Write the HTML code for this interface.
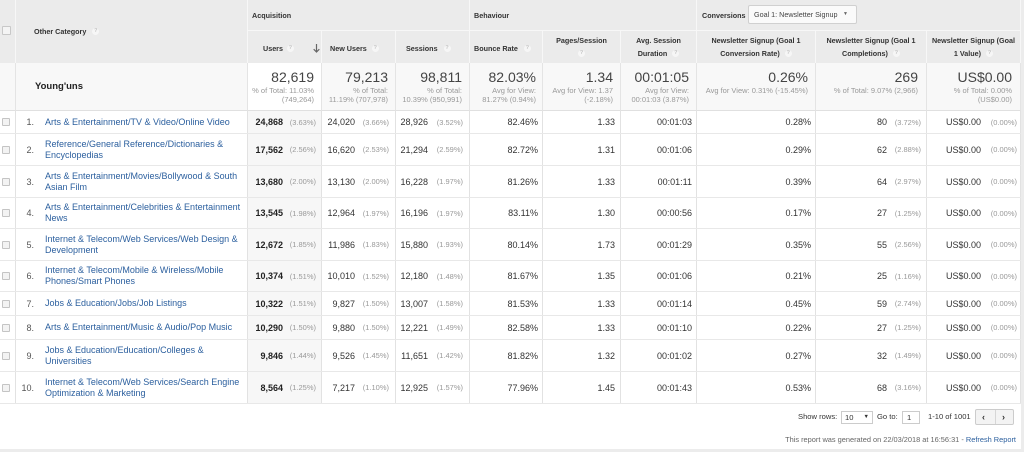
<!DOCTYPE html>
<html><head><meta charset="utf-8">
<style>
html,body{margin:0;padding:0}
body{background:#ececec;width:1024px;height:452px;overflow:hidden;position:relative;font-family:"Liberation Sans",Arial,sans-serif;color:#333}
#w{position:absolute;left:0;top:0;width:1021px;height:449px;background:#fff}
.a{position:absolute;box-sizing:border-box}
.h{background:#ebebeb;border-right:1px solid #f7f7f7;font-weight:bold;font-size:7.2px;color:#333;white-space:nowrap}
.hf{display:flex;align-items:center}
.q{display:inline-block;width:7px;height:7px;border-radius:50%;background:#f6f6f6;color:#c4c4c4;font-size:5.5px;line-height:7px;text-align:center;font-weight:bold;vertical-align:middle}
.h2{top:30px;height:33px;border-top:1px solid #f7f7f7}
.h2s{padding-top:3px}
.hc{text-align:center;line-height:12.5px;padding-top:4px}
.s{top:63px;height:48px;background:#f8f8f8;border-right:1px solid #e4e4e4;border-bottom:1px solid #e0e0e0;text-align:right;padding-top:6px;padding-right:7px;white-space:nowrap}
.s .big{font-size:14px;line-height:16px;color:#444}
.s .sub{font-size:7.5px;line-height:8.6px;color:#999;margin-top:2px}
.r{position:absolute;left:0;width:1021px;display:flex;box-sizing:border-box;border-bottom:1px solid #e8e8e8;font-size:9px;color:#333}
.r>div{box-sizing:border-box;border-right:1px solid #e2e2e2;display:flex;align-items:center;justify-content:flex-end;height:100%;white-space:nowrap}
.r>.c1{width:16px;justify-content:flex-start}
.r>.c2{width:232px;justify-content:flex-start}
.c3{width:74px;padding-right:5px;background:#f7f7f7}
.c3 b{font-weight:bold;color:#222}
.c4{width:74px;padding-right:6px}
.c5{width:74px;padding-right:6px}
.c6{width:73px;padding-right:4px}
.c7{width:78px;padding-right:5px}
.c8{width:76px;padding-right:4px}
.c9{width:119px;padding-right:4px}
.c10{width:111px;padding-right:5px}
.c11{width:94px;padding-right:3px}
.p{display:inline-block;text-align:right;font-size:7.5px;color:#999}
.c3 .p{width:33px}.c4 .p{width:34px}.c5 .p{width:35px}.c10 .p{width:34px}.c11 .p{width:36px}
.cb{width:8px;height:8px;box-sizing:border-box;border:1px solid #c4c4c4;background:#f3f3f3;border-radius:1px;margin-left:2px}
.no{display:inline-block;width:18px;text-align:right;color:#555}
.lk{margin-left:11px;color:#2b5f9e;line-height:11px}
.ft{font-size:7.6px;color:#333;white-space:nowrap}
</style></head><body>
<div id="w">
<!-- header -->
<div class="a h" style="left:0;top:0;width:16px;height:63px;"><div style="position:absolute;left:2px;top:26px;width:9px;height:9px;box-sizing:border-box;border:1px solid #c8c8c8;background:#f4f4f4;border-radius:1px"></div></div>
<div class="a h hf" style="left:16px;top:0;width:232px;height:63px;padding-left:18px;padding-bottom:1px">Other Category<span class="q" style="margin-left:6px">?</span></div>
<div class="a h hf" style="left:248px;top:0;width:222px;height:30px;padding-left:4px">Acquisition</div>
<div class="a h hf" style="left:470px;top:0;width:227px;height:30px;padding-left:4px">Behaviour</div>
<div class="a h hf" style="left:697px;top:0;width:324px;height:30px;padding-left:5px">Conversions
 <div style="position:absolute;left:51px;top:5px;width:109px;height:19px;box-sizing:border-box;border:1px solid #d0d0d0;background:#fafafa;border-radius:2px;font-weight:normal;font-size:7.2px;color:#444;line-height:17px;padding-left:5px">Goal 1: Newsletter Signup<span style="position:absolute;left:94px;top:0;font-size:5px;color:#666">&#9660;</span></div>
</div>
<div class="a h h2 hf h2s" style="left:248px;width:74px;padding-left:15px">Users<span class="q" style="margin-left:4px">?</span>
 <svg style="position:absolute;left:65px;top:13px" width="7" height="9" viewBox="0 0 7 9"><path d="M3.5 0V8M0.7 5.2L3.5 8L6.3 5.2" stroke="#666" stroke-width="1.2" fill="none"/></svg></div>
<div class="a h h2 hf h2s" style="left:322px;width:74px;padding-left:8px">New Users<span class="q" style="margin-left:5px">?</span></div>
<div class="a h h2 hf h2s" style="left:396px;width:74px;padding-left:10px">Sessions<span class="q" style="margin-left:6px">?</span></div>
<div class="a h h2 hf h2s" style="left:470px;width:73px;padding-left:4px">Bounce Rate<span class="q" style="margin-left:6px">?</span></div>
<div class="a h h2 hc" style="left:543px;width:78px">Pages/Session<br><span class="q">?</span></div>
<div class="a h h2 hc" style="left:621px;width:76px">Avg. Session<br>Duration <span class="q" style="margin-left:3px">?</span></div>
<div class="a h h2 hc" style="left:697px;width:119px">Newsletter Signup (Goal 1<br>Conversion Rate) <span class="q" style="margin-left:3px">?</span></div>
<div class="a h h2 hc" style="left:816px;width:111px">Newsletter Signup (Goal 1<br>Completions) <span class="q" style="margin-left:3px">?</span></div>
<div class="a h h2 hc" style="left:927px;width:94px">Newsletter Signup (Goal<br>1 Value) <span class="q" style="margin-left:3px">?</span></div>

<!-- summary -->
<div class="a s" style="left:0;width:16px;padding:0"></div>
<div class="a s" style="left:16px;width:232px;padding:0 0 0 19px;text-align:left;display:flex;align-items:center;font-weight:bold;font-size:9.5px;color:#222">Young'uns</div>
<div class="a s" style="left:248px;width:74px;background:#fff"><div class="big">82,619</div><div class="sub">% of Total: 11.03%<br>(749,264)</div></div>
<div class="a s" style="left:322px;width:74px"><div class="big">79,213</div><div class="sub">% of Total:<br>11.19% (707,978)</div></div>
<div class="a s" style="left:396px;width:74px"><div class="big">98,811</div><div class="sub">% of Total:<br>10.39% (950,991)</div></div>
<div class="a s" style="left:470px;width:73px;padding-right:6px"><div class="big">82.03%</div><div class="sub">Avg for View:<br>81.27% (0.94%)</div></div>
<div class="a s" style="left:543px;width:78px"><div class="big">1.34</div><div class="sub">Avg for View: 1.37<br>(-2.18%)</div></div>
<div class="a s" style="left:621px;width:76px"><div class="big">00:01:05</div><div class="sub">Avg for View:<br>00:01:03 (3.87%)</div></div>
<div class="a s" style="left:697px;width:119px"><div class="big">0.26%</div><div class="sub">Avg for View: 0.31% (-15.45%)</div></div>
<div class="a s" style="left:816px;width:111px;padding-right:8px"><div class="big">269</div><div class="sub">% of Total: 9.07% (2,966)</div></div>
<div class="a s" style="left:927px;width:94px;padding-right:8px"><div class="big">US$0.00</div><div class="sub">% of Total: 0.00%<br>(US$0.00)</div></div>

<!-- rows -->
<div class="r" style="top:111px;height:23px"><div class="c1"><div class="cb"></div></div><div class="c2"><span class="no">1.</span><span class="lk">Arts &amp; Entertainment/TV &amp; Video/Online Video</span></div><div class="c3"><b>24,868</b><span class="p">(3.63%)</span></div><div class="c4">24,020<span class="p">(3.66%)</span></div><div class="c5">28,926<span class="p">(3.52%)</span></div><div class="c6">82.46%</div><div class="c7">1.33</div><div class="c8">00:01:03</div><div class="c9">0.28%</div><div class="c10">80<span class="p">(3.72%)</span></div><div class="c11">US$0.00<span class="p">(0.00%)</span></div></div>

<div class="r" style="top:134px;height:32px"><div class="c1"><div class="cb"></div></div><div class="c2"><span class="no">2.</span><span class="lk">Reference/General Reference/Dictionaries &amp;<br>Encyclopedias</span></div><div class="c3"><b>17,562</b><span class="p">(2.56%)</span></div><div class="c4">16,620<span class="p">(2.53%)</span></div><div class="c5">21,294<span class="p">(2.59%)</span></div><div class="c6">82.72%</div><div class="c7">1.31</div><div class="c8">00:01:06</div><div class="c9">0.29%</div><div class="c10">62<span class="p">(2.88%)</span></div><div class="c11">US$0.00<span class="p">(0.00%)</span></div></div>

<div class="r" style="top:166px;height:32px"><div class="c1"><div class="cb"></div></div><div class="c2"><span class="no">3.</span><span class="lk">Arts &amp; Entertainment/Movies/Bollywood &amp; South<br>Asian Film</span></div><div class="c3"><b>13,680</b><span class="p">(2.00%)</span></div><div class="c4">13,130<span class="p">(2.00%)</span></div><div class="c5">16,228<span class="p">(1.97%)</span></div><div class="c6">81.26%</div><div class="c7">1.33</div><div class="c8">00:01:11</div><div class="c9">0.39%</div><div class="c10">64<span class="p">(2.97%)</span></div><div class="c11">US$0.00<span class="p">(0.00%)</span></div></div>

<div class="r" style="top:198px;height:31px"><div class="c1"><div class="cb"></div></div><div class="c2"><span class="no">4.</span><span class="lk">Arts &amp; Entertainment/Celebrities &amp; Entertainment<br>News</span></div><div class="c3"><b>13,545</b><span class="p">(1.98%)</span></div><div class="c4">12,964<span class="p">(1.97%)</span></div><div class="c5">16,196<span class="p">(1.97%)</span></div><div class="c6">83.11%</div><div class="c7">1.30</div><div class="c8">00:00:56</div><div class="c9">0.17%</div><div class="c10">27<span class="p">(1.25%)</span></div><div class="c11">US$0.00<span class="p">(0.00%)</span></div></div>

<div class="r" style="top:229px;height:32px"><div class="c1"><div class="cb"></div></div><div class="c2"><span class="no">5.</span><span class="lk">Internet &amp; Telecom/Web Services/Web Design &amp;<br>Development</span></div><div class="c3"><b>12,672</b><span class="p">(1.85%)</span></div><div class="c4">11,986<span class="p">(1.83%)</span></div><div class="c5">15,880<span class="p">(1.93%)</span></div><div class="c6">80.14%</div><div class="c7">1.73</div><div class="c8">00:01:29</div><div class="c9">0.35%</div><div class="c10">55<span class="p">(2.56%)</span></div><div class="c11">US$0.00<span class="p">(0.00%)</span></div></div>

<div class="r" style="top:261px;height:31px"><div class="c1"><div class="cb"></div></div><div class="c2"><span class="no">6.</span><span class="lk">Internet &amp; Telecom/Mobile &amp; Wireless/Mobile<br>Phones/Smart Phones</span></div><div class="c3"><b>10,374</b><span class="p">(1.51%)</span></div><div class="c4">10,010<span class="p">(1.52%)</span></div><div class="c5">12,180<span class="p">(1.48%)</span></div><div class="c6">81.67%</div><div class="c7">1.35</div><div class="c8">00:01:06</div><div class="c9">0.21%</div><div class="c10">25<span class="p">(1.16%)</span></div><div class="c11">US$0.00<span class="p">(0.00%)</span></div></div>

<div class="r" style="top:292px;height:24px"><div class="c1"><div class="cb"></div></div><div class="c2"><span class="no">7.</span><span class="lk">Jobs &amp; Education/Jobs/Job Listings</span></div><div class="c3"><b>10,322</b><span class="p">(1.51%)</span></div><div class="c4">9,827<span class="p">(1.50%)</span></div><div class="c5">13,007<span class="p">(1.58%)</span></div><div class="c6">81.53%</div><div class="c7">1.33</div><div class="c8">00:01:14</div><div class="c9">0.45%</div><div class="c10">59<span class="p">(2.74%)</span></div><div class="c11">US$0.00<span class="p">(0.00%)</span></div></div>

<div class="r" style="top:316px;height:24px"><div class="c1"><div class="cb"></div></div><div class="c2"><span class="no">8.</span><span class="lk">Arts &amp; Entertainment/Music &amp; Audio/Pop Music</span></div><div class="c3"><b>10,290</b><span class="p">(1.50%)</span></div><div class="c4">9,880<span class="p">(1.50%)</span></div><div class="c5">12,221<span class="p">(1.49%)</span></div><div class="c6">82.58%</div><div class="c7">1.33</div><div class="c8">00:01:10</div><div class="c9">0.22%</div><div class="c10">27<span class="p">(1.25%)</span></div><div class="c11">US$0.00<span class="p">(0.00%)</span></div></div>

<div class="r" style="top:340px;height:32px"><div class="c1"><div class="cb"></div></div><div class="c2"><span class="no">9.</span><span class="lk">Jobs &amp; Education/Education/Colleges &amp;<br>Universities</span></div><div class="c3"><b>9,846</b><span class="p">(1.44%)</span></div><div class="c4">9,526<span class="p">(1.45%)</span></div><div class="c5">11,651<span class="p">(1.42%)</span></div><div class="c6">81.82%</div><div class="c7">1.32</div><div class="c8">00:01:02</div><div class="c9">0.27%</div><div class="c10">32<span class="p">(1.49%)</span></div><div class="c11">US$0.00<span class="p">(0.00%)</span></div></div>

<div class="r" style="top:372px;height:32px"><div class="c1"><div class="cb"></div></div><div class="c2"><span class="no">10.</span><span class="lk">Internet &amp; Telecom/Web Services/Search Engine<br>Optimization &amp; Marketing</span></div><div class="c3"><b>8,564</b><span class="p">(1.25%)</span></div><div class="c4">7,217<span class="p">(1.10%)</span></div><div class="c5">12,925<span class="p">(1.57%)</span></div><div class="c6">77.96%</div><div class="c7">1.45</div><div class="c8">00:01:43</div><div class="c9">0.53%</div><div class="c10">68<span class="p">(3.16%)</span></div><div class="c11">US$0.00<span class="p">(0.00%)</span></div></div>

<!-- footer -->
<div class="a ft" style="left:798px;top:412px;line-height:10px">Show rows:</div>
<div class="a ft" style="left:841px;top:411px;width:32px;height:13px;border:1px solid #ccc;background:#fff;line-height:11px;padding-left:3px">10<span style="position:absolute;right:3px;top:0;font-size:5.5px;color:#333">&#9660;</span></div>
<div class="a ft" style="left:877px;top:412px;line-height:10px">Go to:</div>
<div class="a ft" style="left:902px;top:411px;width:18px;height:13px;border:1px solid #ccc;background:#fff;line-height:11px;padding-left:4px">1</div>
<div class="a ft" style="left:928px;top:412px;line-height:10px">1-10 of 1001</div>
<div class="a" style="left:975px;top:409px;width:39px;height:16px;border:1px solid #ccc;border-radius:2px;background:#f3f3f3;font-size:9px;font-weight:bold;color:#333;line-height:14px">
 <span style="position:absolute;left:6px;top:0">&#8249;</span><span style="position:absolute;left:19px;top:0;width:1px;height:14px;background:#d6d6d6"></span><span style="position:absolute;left:26px;top:0">&#8250;</span></div>
<div class="a ft" style="right:5px;top:435px;line-height:9px;font-size:7.4px;color:#666">This report was generated on 22/03/2018 at 16:56:31 - <span style="color:#2b5f9e">Refresh Report</span></div>
</div>
</body></html>
